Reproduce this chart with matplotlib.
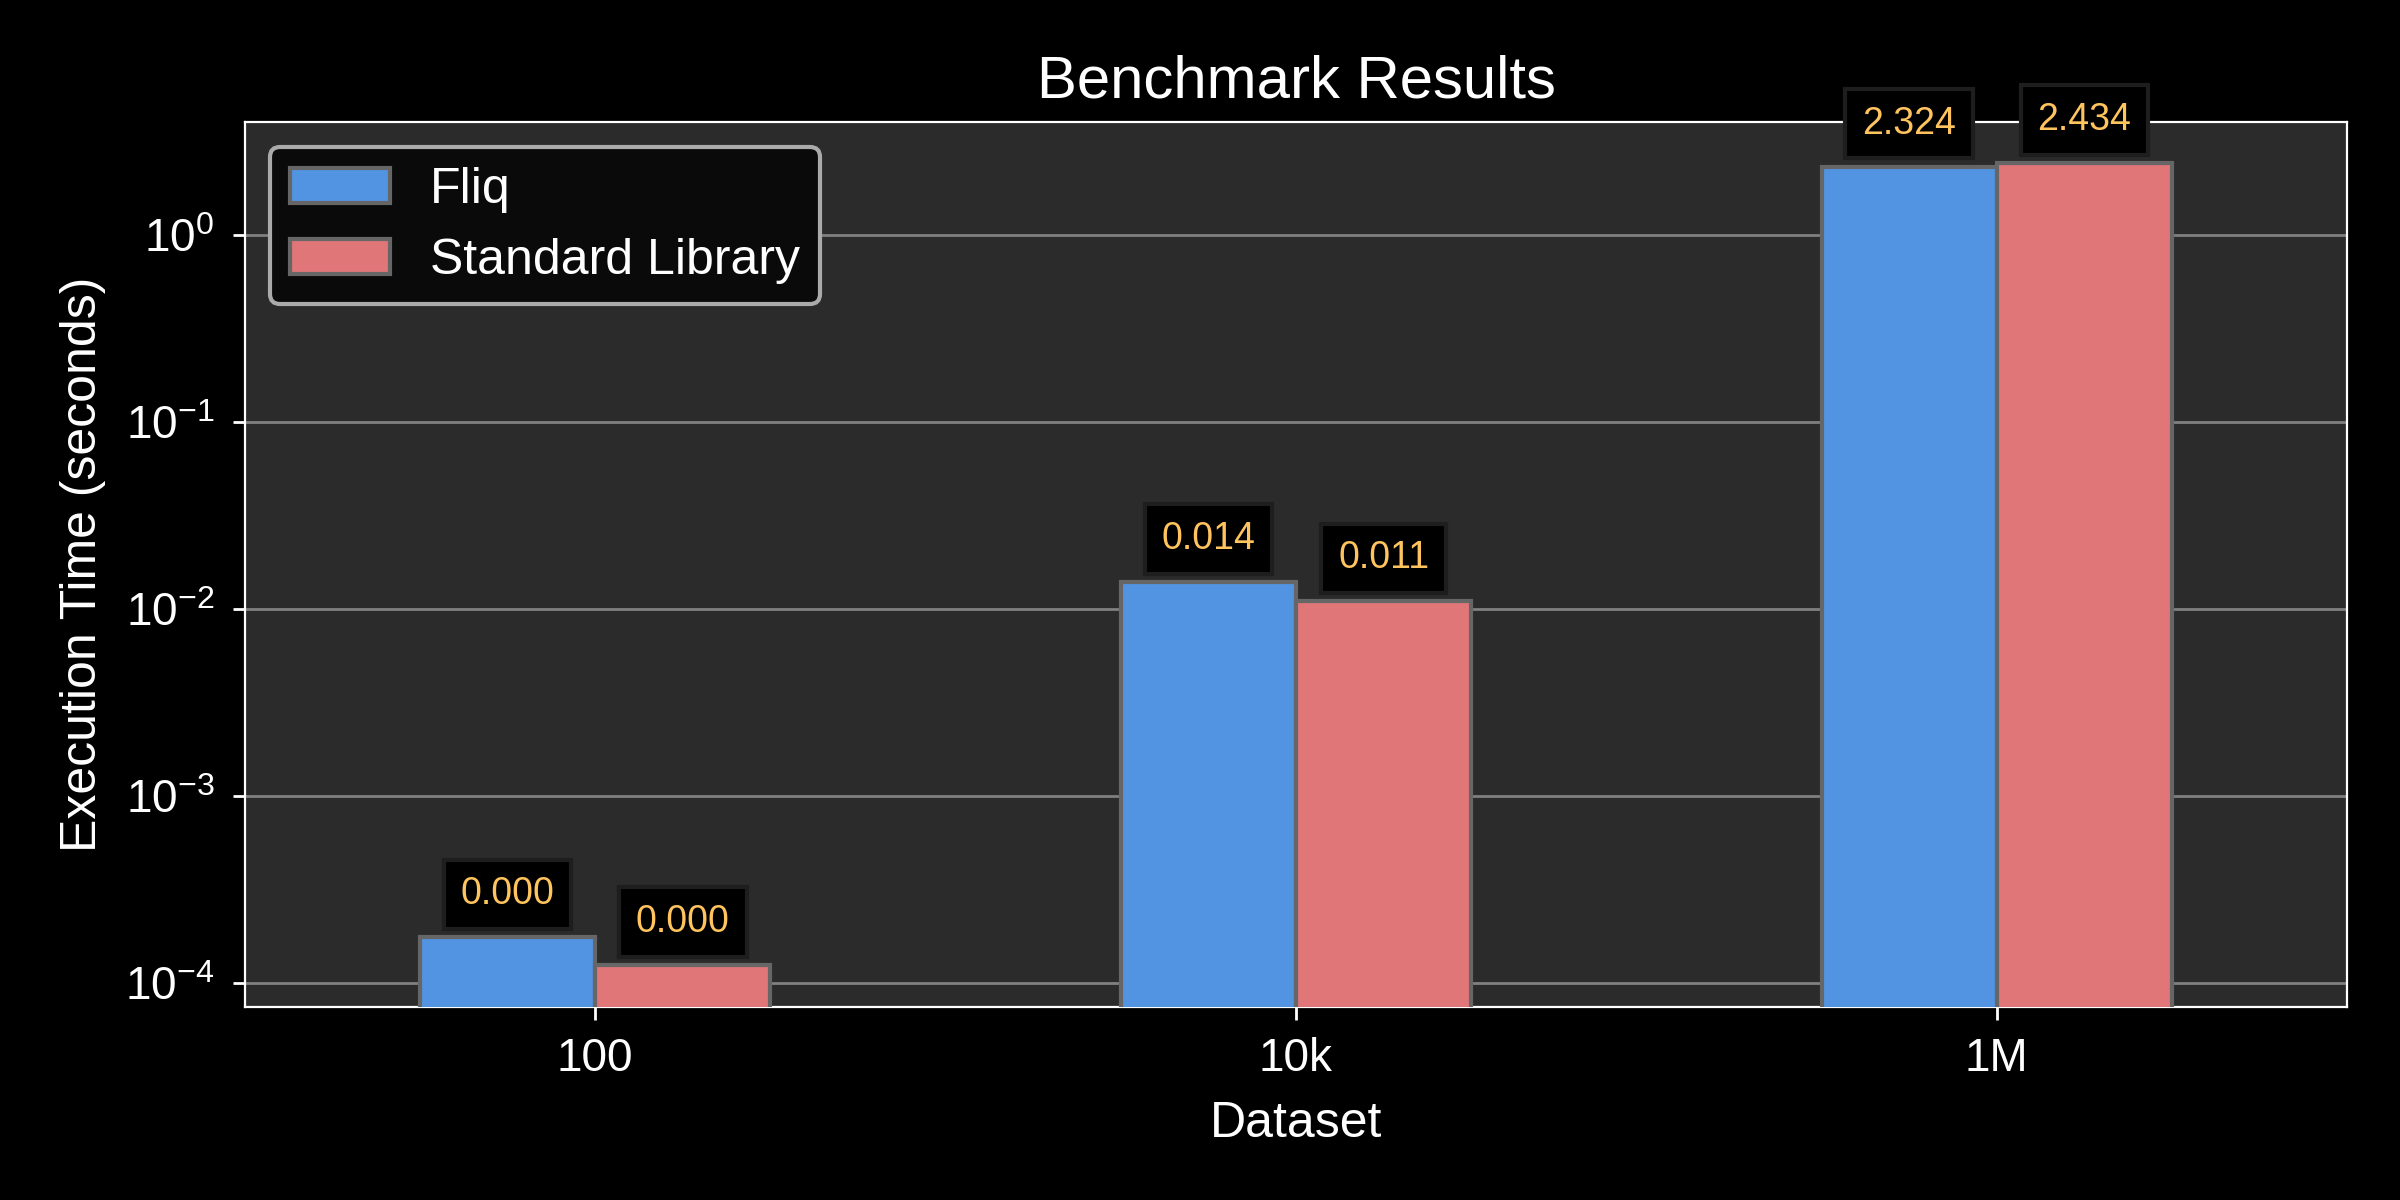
import matplotlib
matplotlib.use("Agg")
import matplotlib.pyplot as plt
import numpy as np

datasets = ["100", "10k", "1M"]
fliq = [0.000176, 0.014, 2.324]
stdlib = [0.000125, 0.011, 2.434]
series_names = ["Fliq", "Standard Library"]

plt.rcParams['font.family'] = ['Liberation Sans', 'DejaVu Sans']

fig = plt.figure(figsize=(12, 6), dpi=200, facecolor='black')
ax = fig.add_axes([0.102, 0.161, 0.876, 0.737])
ax.set_facecolor('#2b2b2b')

x = np.arange(len(datasets))
w = 0.25
b1 = ax.bar(x - w/2, fliq, w, color='#5294e2', edgecolor='#666666', linewidth=1.5, label=series_names[0], zorder=3)
b2 = ax.bar(x + w/2, stdlib, w, color='#e07678', edgecolor='#666666', linewidth=1.5, label=series_names[1], zorder=3)
ax.set_yscale('log')
ax.set_ylim(7.5e-5, 4.0)
ax.set_xlim(-0.5, 2.5)
ax.set_xticks(x)
ax.set_xticklabels(datasets)

ax.grid(axis='y', color='#808080', linewidth=1.0, zorder=1)
ax.set_axisbelow(True)
for s in ax.spines.values():
    s.set_color('white')
ax.tick_params(colors='white', which='major', length=4.5, width=1.0, labelsize=16.5, pad=6.5)
ax.tick_params(which='minor', left=False)

ax.set_title("Benchmark Results", color='white', fontsize=21.6, pad=9)
ax.set_xlabel("Dataset", color='white', fontsize=18, labelpad=7)
ax.set_ylabel("Execution Time (seconds)", color='white', fontsize=18, labelpad=7)

for bars, vals in ((b1, fliq), (b2, stdlib)):
    for rect, v in zip(bars, vals):
        ax.annotate(f"{v:.3f}", xy=(rect.get_x() + rect.get_width()/2, v),
                    xytext=(0, 9), textcoords='offset points', ha='center', va='bottom',
                    color='#ffc45e', fontsize=13.5, zorder=5, annotation_clip=False,
                    bbox=dict(boxstyle='square,pad=0.45', facecolor='black', edgecolor='#1e1e1e', linewidth=1.5))

leg = ax.legend(loc='upper left', fontsize=18, facecolor='#0a0a0a', edgecolor='#aaaaaa',
                framealpha=1.0, labelcolor='white')
leg.get_frame().set_linewidth(1.5)

fig.savefig("out.png", dpi=200, facecolor='black')
